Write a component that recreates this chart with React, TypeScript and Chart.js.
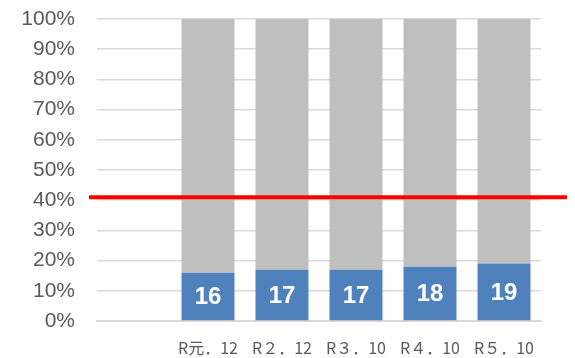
import React, { useEffect, useRef } from "react";
import { Chart, registerables } from "chart.js";

Chart.register(...registerables);

const categories = ["", "R元．12", "R２．12", "R３．10", "R４．10", "R５．10"];
const blueValues = [null, 16, 17, 17, 18, 19];
const grayValues = blueValues.map((v) => (v == null ? null : 100 - v));
const yTickLabels = ["0%", "10%", "20%", "30%", "40%", "50%", "60%", "70%", "80%", "90%", "100%"];
const thresholdValue = 41;

export default function App() {
  const ref = useRef<HTMLCanvasElement | null>(null);
  useEffect(() => {
    if (!ref.current) return;
    const labelPlugin = {
      id: "barLabels",
      afterDatasetsDraw(chart: any) {
        const ctx = chart.ctx;
        const meta = chart.getDatasetMeta(0);
        ctx.save();
        ctx.fillStyle = "#ffffff";
        ctx.font = "bold 24px 'Liberation Sans', Arial, sans-serif";
        ctx.textAlign = "center";
        ctx.textBaseline = "middle";
        meta.data.forEach((bar: any, i: number) => {
          const v = blueValues[i];
          if (v == null) return;
          const y = (bar.y + bar.base) / 2;
          ctx.fillText(String(v), bar.x, y + 1);
        });
        ctx.restore();
      },
    };
    const linePlugin = {
      id: "threshold",
      afterDraw(chart: any) {
        const ctx = chart.ctx;
        const { left, right } = chart.chartArea;
        const y = chart.scales.y.getPixelForValue(thresholdValue);
        ctx.save();
        ctx.strokeStyle = "#ff0000";
        ctx.lineWidth = 4;
        ctx.beginPath();
        ctx.moveTo(left - 8, y);
        ctx.lineTo(right + 26, y);
        ctx.stroke();
        ctx.restore();
      },
    };
    const chart = new Chart(ref.current, {
      type: "bar",
      data: {
        labels: categories,
        datasets: [
          { data: blueValues as any, backgroundColor: "#4f81bd", stack: "s" },
          { data: grayValues as any, backgroundColor: "#bfbfbf", stack: "s" },
        ],
      },
      options: {
        animation: false,
        responsive: false,
        maintainAspectRatio: false,
        layout: { padding: { top: 19, right: 34, bottom: 0, left: 0 } },
        plugins: { legend: { display: false }, tooltip: { enabled: false } },
        datasets: { bar: { categoryPercentage: 1, barPercentage: 0.716 } },
        scales: {
          x: {
            stacked: true,
            grid: { display: false, drawTicks: false },
            border: { display: true, color: "#d9d9d9", width: 2 },
            ticks: {
              color: "#595959",
              font: { size: 16, family: "'Noto Sans CJK JP', sans-serif" },
              padding: 17,
              maxRotation: 0,
              autoSkip: false,
            },
            afterFit(scale: any) {
              scale.height = 37;
            },
          },
          y: {
            stacked: true,
            min: 0,
            max: 100,
            grid: {
              color: "#d9d9d9",
              lineWidth: 1.5,
              drawTicks: true,
              tickLength: 22,
              tickColor: "rgba(0,0,0,0)",
            },
            border: { display: false },
            ticks: {
              stepSize: 10,
              color: "#595959",
              padding: 0,
              font: { size: 21, family: "'Liberation Sans', Arial, sans-serif" },
              callback: (_v: any, i: number) => yTickLabels[i],
            },
            afterFit(scale: any) {
              scale.width = 97;
            },
          },
        },
      },
      plugins: [labelPlugin, linePlugin],
    });
    return () => chart.destroy();
  }, []);
  return (
    <div style={{ position: "fixed", left: 0, top: 0, width: 575, height: 358, background: "#fff" }}>
      <canvas ref={ref} width={575} height={358} style={{ display: "block" }} />
    </div>
  );
}
